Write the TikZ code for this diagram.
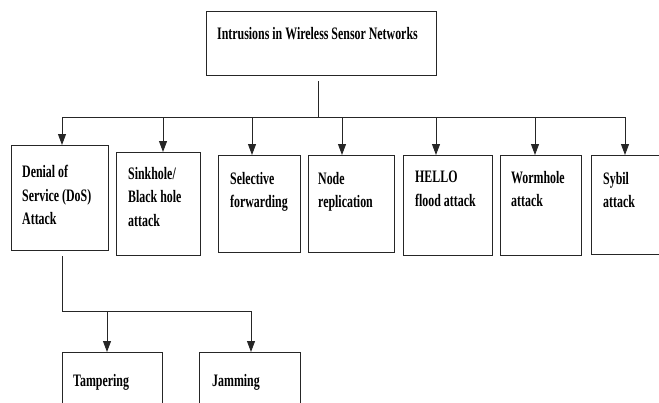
\documentclass[tikz,border=0pt]{standalone}
\usepackage{fontspec}
\newfontfamily\diagfont{Liberation Serif}[FakeStretch=0.68]
\usetikzlibrary{arrows.meta}

\tikzset{
  box/.style={draw=black!85, line width=1.2pt, rectangle, inner sep=0pt, anchor=north west},
  lbl/.style={anchor=north west, inner sep=0pt, align=left,
              font=\diagfont\bfseries\fontsize{17.5}{23.5}\selectfont},
  conn/.style={draw=black!85, line width=0.9pt},
  arr/.style={conn, -{Triangle[width=8pt,length=11pt]}}
}

\begin{document}
\begin{tikzpicture}[x=1pt, y=-1pt]
  \useasboundingbox (0,0) rectangle (659,402);
  \clip (0,0) rectangle (659,402);

  % root box
  \node[box, minimum width=230pt, minimum height=64pt] (title) at (206,11) {};
  \node[lbl] at ([shift={(11pt,-16pt)}]title.north west) {Intrusions in Wireless Sensor Networks};

  % attack boxes
  \node[box, minimum width=97pt, minimum height=105pt] (dos) at (11,145) {};
  \node[box, minimum width=84pt, minimum height=103pt] (sink) at (116,152) {};
  \node[box, minimum width=82pt, minimum height=97pt]  (sel) at (218,155) {};
  \node[box, minimum width=86pt, minimum height=97pt]  (rep) at (308,155) {};
  \node[box, minimum width=89pt, minimum height=100pt] (hello) at (403,155) {};
  \node[box, minimum width=81pt, minimum height=100pt] (worm) at (500,155) {};
  \node[box, minimum width=80pt, minimum height=99pt]  (sybil) at (591,155) {};

  \node[lbl] at ([shift={(11pt,-20pt)}]dos.north west)   {Denial of\\Service (DoS)\\Attack};
  \node[lbl] at ([shift={(12pt,-15pt)}]sink.north west)  {Sinkhole/\\Black hole\\attack};
  \node[lbl] at ([shift={(12pt,-17pt)}]sel.north west)   {Selective\\forwarding};
  \node[lbl] at ([shift={(10pt,-17pt)}]rep.north west)   {Node\\replication};
  \node[lbl] at ([shift={(12pt,-16pt)}]hello.north west) {HELLO\\flood attack};
  \node[lbl] at ([shift={(11pt,-16pt)}]worm.north west)  {Wormhole\\attack};
  \node[lbl] at ([shift={(12pt,-17pt)}]sybil.north west) {Sybil\\attack};

  % DoS sub-attacks
  \node[box, minimum width=100pt, minimum height=70pt] (tamp) at (62,352) {};
  \node[box, minimum width=101pt, minimum height=70pt] (jam) at (199,352) {};
  \node[lbl] at ([shift={(11pt,-22pt)}]tamp.north west) {Tampering};
  \node[lbl] at ([shift={(13pt,-22pt)}]jam.north west)  {Jamming};

  % upper bus
  \coordinate (hub) at (318,117);
  \coordinate (a1) at (62,117);
  \coordinate (a2) at (163,117);
  \coordinate (a3) at (252,117);
  \coordinate (a4) at (342,117);
  \coordinate (a5) at (436,117);
  \coordinate (a6) at (535,117);
  \coordinate (a7) at (625,117);

  \draw[conn, shorten <=5pt] (title.south -| hub) -- (hub);
  \draw[conn] (a1) -- (a7);
  \draw[arr] (a1) -- (a1 |- dos.north);
  \draw[arr] (a2) -- (a2 |- sink.north);
  \draw[arr] (a3) -- (a3 |- sel.north);
  \draw[arr] (a4) -- (a4 |- rep.north);
  \draw[arr] (a5) -- (a5 |- hello.north);
  \draw[arr] (a6) -- (a6 |- worm.north);
  \draw[arr] (a7) -- (a7 |- sybil.north);

  % lower bus
  \coordinate (b0) at (62,311);
  \coordinate (b1) at (107,311);
  \coordinate (b2) at (251,311);
  \draw[conn, shorten <=5pt] (dos.south -| b0) -- (b0) -- (b2);
  \draw[arr] (b1) -- (b1 |- tamp.north);
  \draw[arr] (b2) -- (b2 |- jam.north);
\end{tikzpicture}
\end{document}
